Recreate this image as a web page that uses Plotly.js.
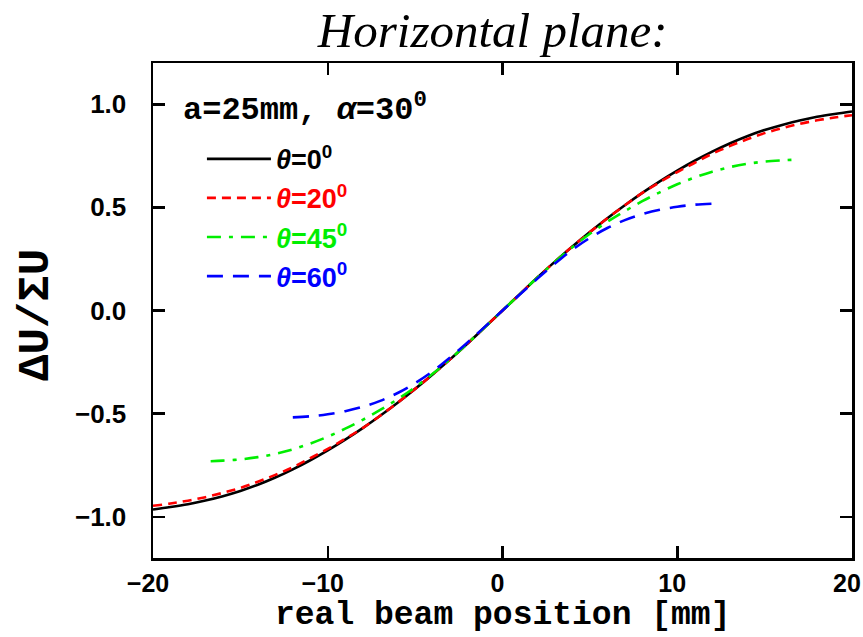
<!DOCTYPE html>
<html>
<head>
<meta charset="utf-8">
<script src="https://cdn.plot.ly/plotly-3.0.1.min.js"></script>
<style>html,body{margin:0;padding:0;background:#fff;}#chart{width:863px;height:637px;}</style>
</head>
<body>
<div id="chart"></div>
<script>
// Data
var xTheta0 = [-20,-19,-18,-17,-16,-15,-14,-13,-12,-11,-10,-9,-8,-7,-6,-5,-4,-3,-2,-1,0,1,2,3,4,5,6,7,8,9,10,11,12,13,14,15,16,17,18,19,20];
var yTheta0 = [-0.965,-0.953,-0.939,-0.921,-0.900,-0.875,-0.845,-0.810,-0.770,-0.726,-0.678,-0.626,-0.570,-0.510,-0.447,-0.380,-0.310,-0.237,-0.160,-0.080,0,0.080,0.160,0.237,0.310,0.380,0.447,0.510,0.570,0.626,0.678,0.726,0.770,0.810,0.845,0.875,0.900,0.921,0.939,0.953,0.965];

var xTheta20 = [-20,-19,-18,-17,-16,-15,-14,-13,-12,-11,-10,-9,-8,-7,-6,-5,-4,-3,-2,-1,0,1,2,3,4,5,6,7,8,9,10,11,12,13,14,15,16,17,18,19,20];
var yTheta20 = [-0.947,-0.936,-0.922,-0.905,-0.884,-0.860,-0.830,-0.797,-0.760,-0.716,-0.671,-0.622,-0.570,-0.510,-0.447,-0.380,-0.310,-0.237,-0.160,-0.080,0,0.080,0.160,0.237,0.310,0.380,0.447,0.510,0.570,0.622,0.671,0.716,0.760,0.797,0.830,0.860,0.884,0.905,0.922,0.936,0.947];

var xTheta45 = [-16.7,-16,-15,-14,-13,-12,-11,-10,-9,-8,-7,-6,-5,-4,-3,-2,-1,0,1,2,3,4,5,6,7,8,9,10,11,12,13,14,15,16,16.7];
var yTheta45 = [-0.731,-0.728,-0.722,-0.711,-0.695,-0.673,-0.645,-0.612,-0.573,-0.530,-0.482,-0.430,-0.372,-0.307,-0.236,-0.160,-0.080,0,0.080,0.160,0.236,0.307,0.372,0.430,0.482,0.530,0.573,0.612,0.645,0.673,0.695,0.711,0.722,0.728,0.731];

var xTheta60 = [-12,-11,-10,-9,-8,-7,-6,-5,-4,-3,-2,-1,0,1,2,3,4,5,6,7,8,9,10,11,12];
var yTheta60 = [-0.518,-0.513,-0.503,-0.488,-0.467,-0.438,-0.400,-0.352,-0.295,-0.228,-0.155,-0.078,0,0.078,0.155,0.228,0.295,0.352,0.400,0.438,0.467,0.488,0.503,0.513,0.518];

var seriesNames = ['<i>θ</i>=0<sup>0</sup>', '<i>θ</i>=20<sup>0</sup>', '<i>θ</i>=45<sup>0</sup>', '<i>θ</i>=60<sup>0</sup>'];
var seriesColors = ['#000000', '#ff0000', '#00ee00', '#0000ff'];
var seriesDash = ['solid', '9px,6px', '14px,8px,4px,8px', '16px,10px'];

var xs = [xTheta0, xTheta20, xTheta45, xTheta60];
var ys = [yTheta0, yTheta20, yTheta45, yTheta60];

var traces = xs.map(function(x, i) {
  return {
    x: x, y: ys[i], type: 'scatter', mode: 'lines',
    name: '<span style="color:' + seriesColors[i] + '">' + seriesNames[i] + '</span>',
    legendgroup: 'g' + i,
    line: {color: seriesColors[i], width: 2.6, dash: seriesDash[i], shape: 'spline', smoothing: 1}
  };
});

var layout = {
  width: 863, height: 637,
  margin: {l: 153, r: 11, t: 63, b: 79},
  paper_bgcolor: '#fff', plot_bgcolor: '#fff',
  font: {family: 'Liberation Sans, Arial, sans-serif', color: '#000'},
  title: {
    text: '<i>Horizontal plane:</i>',
    font: {family: 'Liberation Serif, Times New Roman, serif', size: 49, color: '#000'},
    xref: 'container', yref: 'container', x: 0.571, y: 0.953, xanchor: 'center', yanchor: 'middle'
  },
  xaxis: {
    range: [-20, 20], dtick: 10, tick0: 0,
    showline: true, linewidth: 2.5, linecolor: '#000', mirror: 'ticks',
    ticks: 'inside', ticklen: 12, tickwidth: 2.5, tickcolor: '#000',
    showgrid: false, zeroline: false,
    tickfont: {family: 'Liberation Sans, Arial, sans-serif', size: 25, weight: 'bold'},
    ticklabelstandoff: 1, ticklabelshift: -5, ticklabeloverflow: 'allow'
  },
  yaxis: {
    range: [-1.2, 1.2], dtick: 0.5, tick0: 0, tickformat: '.1f',
    showline: true, linewidth: 2.5, linecolor: '#000', mirror: 'ticks',
    ticks: 'inside', ticklen: 12, tickwidth: 2.5, tickcolor: '#000',
    showgrid: false, zeroline: false,
    tickfont: {family: 'Liberation Sans, Arial, sans-serif', size: 26, weight: 'bold'},
    ticklabelstandoff: 19, ticklabeloverflow: 'allow'
  },
  showlegend: true,
  legend: {
    x: 0.07, y: 0.855, xanchor: 'left', yanchor: 'top',
    bgcolor: 'rgba(0,0,0,0)', borderwidth: 0,
    font: {family: 'Liberation Sans, Arial, sans-serif', size: 27, weight: 'bold'},
    itemwidth: 64, tracegroupgap: 1
  },
  annotations: [{
    text: 'a=25mm, <i>α</i>=30<sup>0</sup>',
    xref: 'paper', yref: 'paper', x: 0.04, y: 0.909, xanchor: 'left', yanchor: 'middle',
    showarrow: false,
    font: {family: 'Liberation Mono, Courier New, monospace', size: 32, weight: 'bold', color: '#000'}
  }, {
    text: 'real beam position [mm]',
    xref: 'paper', yref: 'paper', x: 0.5, y: 0, xanchor: 'center', yanchor: 'middle', yshift: -57,
    showarrow: false,
    font: {family: 'Liberation Mono, Courier New, monospace', size: 33, weight: 'bold', color: '#000'}
  }, {
    text: 'ΔU/ΣU',
    xref: 'paper', yref: 'paper', x: 0, y: 0.491, xanchor: 'center', yanchor: 'middle', xshift: -117,
    textangle: -90, showarrow: false,
    font: {family: 'Liberation Mono, Courier New, monospace', size: 44, weight: 'bold', color: '#000'}
  }]
};

Plotly.newPlot('chart', traces, layout, {staticPlot: true, displayModeBar: false});
</script>
</body>
</html>
